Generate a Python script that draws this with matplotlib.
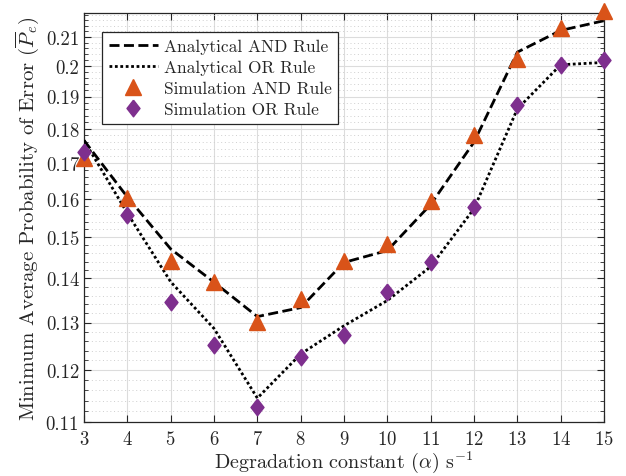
import matplotlib
matplotlib.use("Agg")
import matplotlib.pyplot as plt
from matplotlib.ticker import FixedLocator, FuncFormatter, NullFormatter
import numpy as np

# Degradation constant values (alpha, 1/s)
alpha = [3, 4, 5, 6, 7, 8, 9, 10, 11, 12, 13, 14, 15]

# Analytical minimum average probability of error
analytical_and = [0.1765, 0.1605, 0.1471, 0.1391, 0.1313, 0.1333, 0.1438,
                  0.1467, 0.1585, 0.1760, 0.2047, 0.2123, 0.2158]
analytical_or = [0.1765, 0.1562, 0.1392, 0.1287, 0.1145, 0.1233, 0.1293,
                 0.1349, 0.1428, 0.1574, 0.1861, 0.2004, 0.2012]

# Monte-Carlo simulation results
simulation_and = [0.1713, 0.1602, 0.1442, 0.1392, 0.1302, 0.1353, 0.1442,
                  0.1482, 0.1594, 0.1782, 0.2024, 0.2131, 0.2192]
simulation_or = [0.1730, 0.1557, 0.1346, 0.1252, 0.1128, 0.1226, 0.1272,
                 0.1368, 0.1438, 0.1578, 0.1873, 0.2004, 0.2021]

y_ticks = [0.11, 0.12, 0.13, 0.14, 0.15, 0.16, 0.17, 0.18, 0.19, 0.20, 0.21]
x_ticks = alpha

plt.rcParams["font.family"] = ["cmr10", "DejaVu Serif"]
plt.rcParams["mathtext.fontset"] = "cm"
plt.rcParams["axes.formatter.use_mathtext"] = True

text_color = "#262626"
and_color = "#D95319"
or_color = "#7E2F8E"

fig = plt.figure(figsize=(6.26, 4.77), dpi=100)
ax = fig.add_axes([0.1342, 0.1132, 0.8307, 0.8574])

ax.plot(alpha, analytical_and, color="black", lw=2.0,
        linestyle=(0, (3.6, 1.6)), label="Analytical AND Rule", zorder=3)
ax.plot(alpha, analytical_or, color="black", lw=2.0,
        linestyle=(0, (1.0, 0.95)), label="Analytical OR Rule", zorder=3)

diamond = [(0, 1), (0.78, 0), (0, -1), (-0.78, 0), (0, 1)]
ax.plot(alpha, simulation_and, linestyle="none", marker="^", ms=11,
        color=and_color, mec=and_color, label="Simulation AND Rule",
        zorder=4, clip_on=False)
ax.plot(alpha, simulation_or, linestyle="none", marker=diamond, ms=12,
        color=or_color, mec=or_color, label="Simulation OR Rule",
        zorder=4, clip_on=False)

ax.set_yscale("log")
ax.set_xlim(3, 15)
ax.set_ylim(0.11, 0.2186)

ax.xaxis.set_major_locator(FixedLocator(x_ticks))
ax.yaxis.set_major_locator(FixedLocator(y_ticks))
ax.yaxis.set_minor_locator(FixedLocator(np.arange(0.11, 0.2186, 0.002)))
ax.yaxis.set_major_formatter(FuncFormatter(lambda v, p: "%g" % round(v, 3)))
ax.yaxis.set_minor_formatter(NullFormatter())

ax.grid(True, which="major", color="#dcdcdc", lw=0.8, linestyle="-", zorder=0)
ax.grid(True, which="minor", axis="y", color="#cfcfcf", lw=0.7,
        linestyle=(0, (1, 2.8)), zorder=0)
ax.set_axisbelow(True)

ax.tick_params(axis="both", which="both", direction="in", top=True,
               right=True, colors=text_color, labelcolor=text_color,
               labelsize=13.5)
ax.tick_params(axis="both", which="major", length=5, width=0.8)
ax.tick_params(axis="y", which="minor", length=3, width=0.6)
ax.tick_params(axis="x", which="major", pad=6)
for s in ax.spines.values():
    s.set_color(text_color)
    s.set_linewidth(0.9)

ax.set_xlabel(r"Degradation constant $(\alpha)$ s$^{-1}$", fontsize=14.5,
              color=text_color, labelpad=0)
ax.set_ylabel(r"Minimum Average Probability of Error $(\overline{P}_e)$",
              fontsize=15, color=text_color, labelpad=3)

leg = ax.legend(loc="upper left", bbox_to_anchor=(0.0346, 0.954),
                fontsize=12.5, frameon=True, fancybox=False,
                handlelength=2.8, handletextpad=0.35, borderpad=0.4,
                labelspacing=0.33, borderaxespad=0.0)
leg.get_frame().set_edgecolor(text_color)
leg.get_frame().set_linewidth(0.9)
leg.get_frame().set_alpha(1.0)
for t in leg.get_texts():
    t.set_color(text_color)

fig.savefig("out.png", dpi=100)
